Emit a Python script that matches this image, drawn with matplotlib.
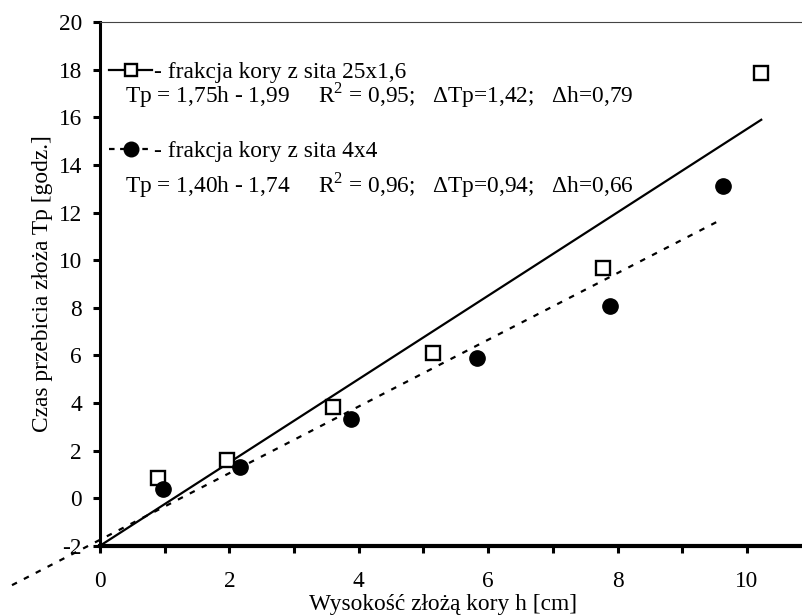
import matplotlib
matplotlib.use("Agg")
import matplotlib.pyplot as plt
from matplotlib.lines import Line2D
from matplotlib.ticker import MultipleLocator
import numpy as np

plt.rcParams['font.family'] = ['Liberation Serif', 'DejaVu Serif']
plt.rcParams['mathtext.fontset'] = 'custom'
plt.rcParams['mathtext.rm'] = 'Liberation Serif'
plt.rcParams['axes.unicode_minus'] = False

# frakcja 25x1,6 (kwadraty)
h_sq = [0.9, 1.97, 3.6, 5.15, 7.77, 10.22]
tp_sq = [0.85, 1.63, 3.85, 6.1, 9.67, 17.87]
# frakcja 4x4 (kola)
h_ci = [0.98, 2.16, 3.88, 5.83, 7.89, 9.63]
tp_ci = [0.38, 1.32, 3.33, 5.9, 8.08, 13.13]

# linie trendu: Tp = a*h + b
a_sq, b_sq = 1.75, -1.99
a_ci, b_ci = 1.40, -1.74
range_sq = [0.0, 10.22]
range_ci = [-1.36, 9.55]

lab_sq = "- frakcja kory z sita 25x1,6"
lab_ci = "- frakcja kory z sita 4x4"
eq_sq = "Tp = 1,75h - 1,99     R$^2$ = 0,95;   \u0394Tp=1,42;   \u0394h=0,79"
eq_ci = "Tp = 1,40h - 1,74     R$^2$ = 0,96;   \u0394Tp=0,94;   \u0394h=0,66"

fs = 16.8
fig = plt.figure(figsize=(8.03, 6.15), dpi=100)
ax = fig.add_axes([100/803, 1-546/615, 703/803, 524/615])

hx = np.array(range_sq)
ax.plot(hx, a_sq*hx + b_sq, color='black', lw=1.6, zorder=2)
hx2 = np.array(range_ci)
ax.plot(hx2, a_ci*hx2 + b_ci, color='black', lw=1.6, ls=(0, (2.5, 3.5)), clip_on=False, zorder=2)

ax.plot(h_sq, tp_sq, ls='none', marker='s', ms=9.5, mfc='white', mec='black', mew=1.7, zorder=3)
ax.plot(h_ci, tp_ci, ls='none', marker='o', ms=11, mfc='black', mec='black', zorder=3)

ax.set_xlim(0, 703/64.7)
ax.set_ylim(-2, 20)
ax.xaxis.set_major_locator(MultipleLocator(2))
ax.xaxis.set_minor_locator(MultipleLocator(1))
ax.yaxis.set_major_locator(MultipleLocator(2))
ax.tick_params(axis='both', which='both', direction='out', width=2.2, length=5, labelsize=fs, colors='black')
ax.tick_params(axis='x', which='major', pad=13)
ax.tick_params(axis='y', which='major', pad=8)
ax.spines['left'].set_linewidth(2.2)
ax.spines['bottom'].set_linewidth(3)
ax.spines['top'].set_linewidth(0.8)
ax.spines['top'].set_color('#444444')
ax.spines['right'].set_visible(False)
ax.spines['bottom'].set_zorder(5)

ax.set_xlabel("Wysokość złożą kory h [cm]", fontsize=fs)
ax.xaxis.set_label_coords(0.488, -0.092)
ax.set_ylabel("Czas przebicia złoża Tp [godz.]", fontsize=fs, labelpad=4)

handles = [Line2D([], [], color='black', lw=1.6, marker='s', ms=8.5, mfc='white', mec='black', mew=1.7),
           Line2D([], [], color='black', lw=1.6, ls=(0, (2.5, 2.5)), marker='o', ms=10.5, mfc='black')]
ax.legend(handles, [lab_sq, lab_ci], loc='upper left', bbox_to_anchor=(-0.01, 0.955),
          frameon=False, fontsize=fs, handlelength=1.85, handletextpad=0.05,
          labelspacing=2.45, borderaxespad=0.3)

ax.text(0.39, 16.93, eq_sq, fontsize=fs, va='center', ha='left')
ax.text(0.39, 13.15, eq_ci, fontsize=fs, va='center', ha='left')

fig.savefig("out.png", dpi=100)
